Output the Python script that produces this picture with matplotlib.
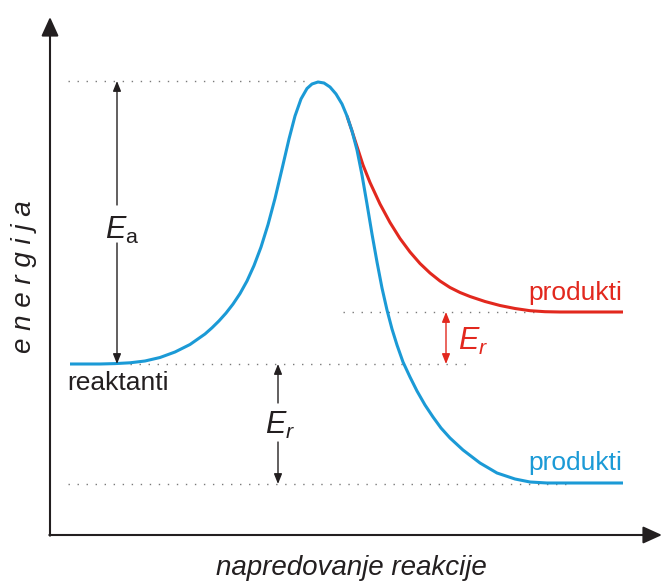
import matplotlib
matplotlib.use("Agg")
import matplotlib.pyplot as plt

plt.rcParams['font.family'] = ['Liberation Sans', 'DejaVu Sans']
plt.rcParams['mathtext.fontset'] = 'custom'
plt.rcParams['mathtext.rm'] = 'Liberation Sans'
plt.rcParams['mathtext.it'] = 'Liberation Sans:italic'

# ---- data (reaction progress vs energy) ----
blue_x = [70, 100, 115, 130, 145, 160, 175, 190, 205, 212, 219, 226, 233, 240, 247,
          254, 261, 268, 275, 282, 289, 295, 301, 307, 312, 318, 324, 330, 336, 342,
          347, 352, 357, 362, 367, 372, 377, 382, 387, 392, 397, 403, 410, 417, 425,
          433, 441, 450, 463, 480, 497, 515, 530, 547, 570, 623]
blue_e = [219, 219, 219.4, 220.2, 222, 225.5, 231, 238.5, 249, 255.2, 262.1, 269.9, 278.9, 289.4, 302,
          317.4, 335.9, 358.3, 384.5, 414, 444, 467, 484, 494.5, 499, 501, 500, 496, 489, 479,
          467, 452, 433, 408, 379, 349, 321, 295, 273, 254, 238, 221, 206, 192, 178,
          166, 155, 145, 133, 120, 110, 104, 101, 100, 100, 100]
red_x = [347, 352, 357, 363, 370, 380, 390, 400, 410, 420, 430, 440, 450, 460, 470,
         485, 500, 515, 530, 545, 560, 623]
red_e = [467, 452, 436.5, 418, 400.5, 379, 360.5, 344.5, 331, 319.5, 310, 302, 295.5, 290.5, 286.5,
         281.5, 277.5, 274.5, 272.3, 271.3, 271, 271]

E_reactant = 219
E_peak = 502
E_prod_red = 271
E_prod_blue = 99

# guide lines: (level, x start, x end)
guides = [(E_peak, 68, 310), (E_reactant, 130, 470), (E_prod_red, 343, 538), (E_prod_blue, 68, 572)]

BLUE = '#1b9ad6'
RED = '#e2281e'
DARK = '#231f20'
GREY = '#7a7a7a'

fig = plt.figure(figsize=(6.62, 5.83), dpi=100)
ax = fig.add_axes([0, 0, 1, 1])
ax.set_xlim(0, 662)
ax.set_ylim(0, 583)
ax.axis('off')

# dotted guides
for lev, x0, x1 in guides:
    ax.plot([x0, x1], [lev, lev], color=GREY, lw=1.0, linestyle=(0, (1, 5.5)))

# curves
ax.plot(red_x, red_e, color=RED, lw=2.2, solid_capstyle='butt', solid_joinstyle='round')
ax.plot(blue_x, blue_e, color=BLUE, lw=2.2, solid_capstyle='butt', solid_joinstyle='round')

# axes with arrows
axis_y0 = 48
axis_x0 = 50
big = dict(arrowstyle='-|>,head_length=0.55,head_width=0.25', color=DARK, lw=1.5,
           mutation_scale=21, shrinkA=0, shrinkB=0)
ax.annotate('', xy=(axis_x0, 566), xytext=(axis_x0, axis_y0 - 0.7), arrowprops=big)
ax.annotate('', xy=(662, axis_y0), xytext=(axis_x0 - 0.7, axis_y0), arrowprops=big)

# small arrows
def small(color):
    return dict(arrowstyle='-|>,head_length=0.5,head_width=0.2', color=color, lw=1.0,
                mutation_scale=12, shrinkA=0, shrinkB=0)

ax.annotate('', xy=(117, E_peak), xytext=(117, 378), arrowprops=small(DARK))
ax.annotate('', xy=(117, E_reactant), xytext=(117, 340), arrowprops=small(DARK))
ax.annotate('', xy=(278, E_reactant), xytext=(278, 180), arrowprops=small(DARK))
ax.annotate('', xy=(278, E_prod_blue), xytext=(278, 141), arrowprops=small(DARK))
ax.annotate('', xy=(446, E_prod_red), xytext=(446, E_reactant),
            arrowprops=dict(arrowstyle='<|-|>,head_length=0.5,head_width=0.2', color=RED,
                            lw=1.0, mutation_scale=12, shrinkA=0, shrinkB=0))

# labels
ax.text(122, 353, r'$E_{\mathrm{a}}$', fontsize=22, color=DARK, ha='center', va='center')
ax.text(280, 158, r'$E_{r}$', fontsize=22, color=DARK, ha='center', va='center')
ax.text(473, 242, r'$E_{r}$', fontsize=22, color=RED, ha='center', va='center')

ax.text(67, 200, 'reaktanti', fontsize=19, color=DARK, ha='left', va='center')
ax.text(622, 120, 'produkti', fontsize=19, color=BLUE, ha='right', va='center')
ax.text(622, 290, 'produkti', fontsize=19, color=RED, ha='right', va='center')

ax.text(351, 15, 'napredovanje reakcije', fontsize=20, style='italic', color=DARK,
        ha='center', va='center')
ax.text(24, 306, 'e n e r g i j a', fontsize=20, style='italic', color=DARK,
        ha='center', va='center', rotation=90)

fig.savefig('out.png', dpi=100)
